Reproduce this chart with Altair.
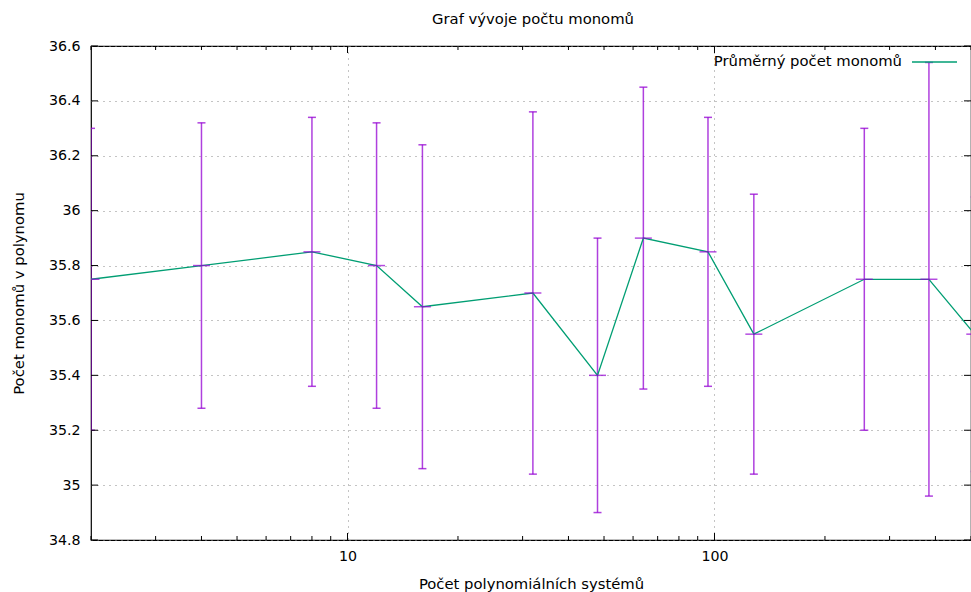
import altair as alt
import pandas as pd

# data
systems = [2, 4, 8, 12, 16, 32, 48, 64, 96, 128, 256, 384, 512]
mean_monomials = [35.75, 35.80, 35.85, 35.80, 35.65, 35.70, 35.40, 35.90, 35.85, 35.55, 35.75, 35.75, 35.55]
low_monomials = [35.20, 35.28, 35.36, 35.28, 35.06, 35.04, 34.90, 35.35, 35.36, 35.04, 35.20, 34.96, 35.05]
high_monomials = [36.30, 36.32, 36.34, 36.32, 36.24, 36.36, 35.90, 36.45, 36.34, 36.06, 36.30, 36.54, 36.05]

x_major = [10, 100]
x_minor = [2, 3, 4, 5, 6, 7, 8, 9, 20, 30, 40, 50, 60, 70, 80, 90, 200, 300, 400, 500]
y_ticks = [34.8, 35.0, 35.2, 35.4, 35.6, 35.8, 36.0, 36.2, 36.4, 36.6]

FONT = "DejaVu Sans"
GREEN = "#009e73"
PURPLE = "#9400d3"
W, H = 880, 494
TXT = 14.8
NUM = 14.2

df = pd.DataFrame({"x": systems, "m": mean_monomials, "lo": low_monomials, "hi": high_monomials})
xs = alt.Scale(type="log", domain=[2, 500], nice=False)
ys = alt.Scale(domain=[34.8, 36.6], nice=False, zero=False)

x_axis = alt.Axis(values=x_major, format="d", grid=True, gridDash=[1, 5], gridColor="#888888",
                  gridWidth=1, tickSize=0, domain=False, labelPadding=9, labelFontSize=NUM,
                  labelFont=FONT, labelColor="black", title="Počet polynomiálních systémů",
                  titleFont=FONT, titleFontSize=TXT, titleFontWeight="normal", titlePadding=13,
                  titleColor="black")
y_axis = alt.Axis(values=y_ticks, labelExpr="format(datum.value, '~g')", grid=True, gridDash=[1, 5],
                  gridColor="#888888", gridWidth=1, tickSize=0, domain=False, labelPadding=11,
                  labelFontSize=NUM, labelFont=FONT, labelColor="black",
                  title="Počet monomů v polynomu", titleFont=FONT, titleFontSize=TXT,
                  titleFontWeight="normal", titlePadding=22, titleColor="black")

base = alt.Chart(df)

bars = base.mark_rule(color=PURPLE, strokeWidth=1.5, opacity=0.75, clip=True).encode(
    x=alt.X("x:Q", scale=xs, axis=x_axis),
    y=alt.Y("lo:Q", scale=ys, axis=y_axis),
    y2="hi:Q",
)
cap_lo = base.mark_tick(orient="horizontal", size=8, thickness=1.5, color=PURPLE, opacity=0.75, clip=True).encode(
    x=alt.X("x:Q", scale=xs), y=alt.Y("lo:Q", scale=ys))
cap_hi = base.mark_tick(orient="horizontal", size=8, thickness=1.5, color=PURPLE, opacity=0.75, clip=True).encode(
    x=alt.X("x:Q", scale=xs), y=alt.Y("hi:Q", scale=ys))
line = base.mark_line(color=GREEN, strokeWidth=1.3, clip=True).encode(
    x=alt.X("x:Q", scale=xs), y=alt.Y("m:Q", scale=ys))
mean_mark = base.mark_tick(orient="horizontal", size=17, thickness=1.5, color=PURPLE, clip=True).encode(
    x=alt.X("x:Q", scale=xs), y=alt.Y("m:Q", scale=ys))

# inward ticks (gnuplot style)
xmin_df = pd.DataFrame({"t": x_minor})
xmaj_df = pd.DataFrame({"t": x_major})
y_df = pd.DataFrame({"t": y_ticks})

def xticks(d, length):
    b = alt.Chart(d).mark_rule(color="black", strokeWidth=1)
    bottom = b.encode(x=alt.X("t:Q", scale=xs), y=alt.value(H), y2=alt.value(H - length))
    top = b.encode(x=alt.X("t:Q", scale=xs), y=alt.value(0), y2=alt.value(length))
    return bottom + top

yb = alt.Chart(y_df).mark_rule(color="black", strokeWidth=1)
yticks_left = yb.encode(y=alt.Y("t:Q", scale=ys), x=alt.value(0), x2=alt.value(7))
yticks_right = yb.encode(y=alt.Y("t:Q", scale=ys), x=alt.value(W), x2=alt.value(W - 7))

title = alt.Chart(pd.DataFrame({"t": ["Graf vývoje počtu monomů"]})).mark_text(
    font=FONT, fontSize=TXT, color="black", align="center", baseline="middle").encode(
    text="t:N", x=alt.value(442), y=alt.value(-26))

legend_text = alt.Chart(pd.DataFrame({"t": ["Průměrný počet monomů"]})).mark_text(
    font=FONT, fontSize=TXT, color="black", align="right", baseline="middle").encode(
    text="t:N", x=alt.value(811), y=alt.value(16))
legend_line = alt.Chart(pd.DataFrame({"t": [0]})).mark_rule(color=GREEN, strokeWidth=1.3).encode(
    x=alt.value(821), x2=alt.value(866), y=alt.value(16))

chart = alt.layer(
    bars, cap_lo, cap_hi, line, mean_mark,
    xticks(xmin_df, 4), xticks(xmaj_df, 7), yticks_left, yticks_right,
    title, legend_text, legend_line,
).properties(
    width=W, height=H,
    autosize=alt.AutoSizeParams(type="none"),
    padding={"left": 91, "top": 46, "right": 0, "bottom": 52},
    background="white",
).configure_view(stroke="black", strokeWidth=1.2)

chart.save("out.html", embed_options={"renderer": "svg", "actions": False})
